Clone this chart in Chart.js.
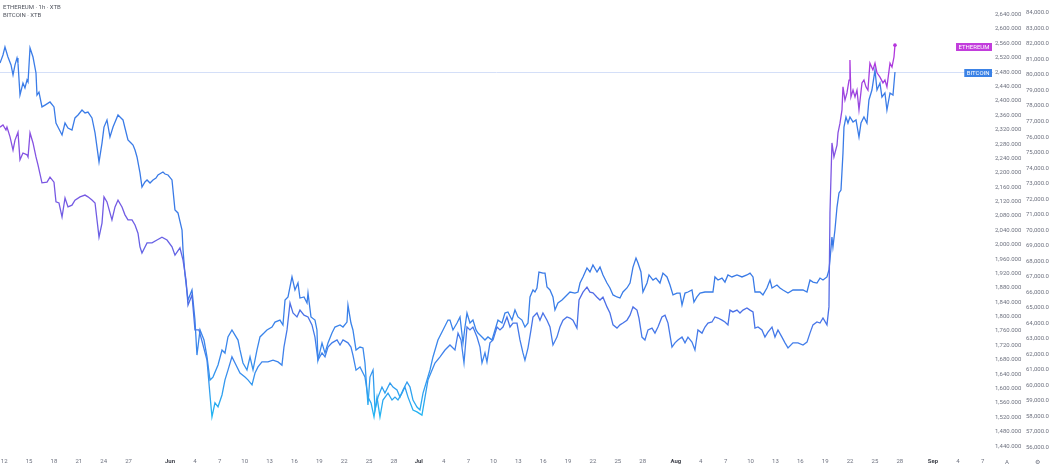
<!DOCTYPE html>
<html lang="en">
<head>
    <meta charset="UTF-8">
    <title>ETHEREUM / BITCOIN - 1h - XTB</title>
    <script src="https://cdn.jsdelivr.net/npm/chart.js"></script>
    <style>
        html, body { margin: 0; padding: 0; background: #fff; }
        .chart-box { position: relative; width: 1052px; height: 471px; }
    </style>
</head>
<body>
    <div class="chart-box">
        <canvas id="pairChart" width="1052" height="471"></canvas>
    </div>
    <script>
    // time axis = days since May 1 (May 12 = 11, Jun 1 = 31 ...)
    const xTickDays = [11, 14, 17, 20, 23, 26, 31, 34, 37, 40, 43, 46, 49, 52, 55, 58, 61, 64, 67, 70, 73, 76, 79, 82, 85, 88, 92, 95, 98, 101, 104, 107, 110, 113, 116, 119, 123, 126, 129];
    const xTickLabels = ['12', '15', '18', '21', '24', '27', 'Jun', '4', '7', '10', '13', '16', '19', '22', '25', '28', 'Jul', '4', '7', '10', '13', '16', '19', '22', '25', '28', 'Aug', '4', '7', '10', '13', '16', '19', '22', '25', '28', 'Sep', '4', '7'];
    const monthLabels = ['Jun', 'Jul', 'Aug', 'Sep'];

    const ethTicks = [1440, 1480, 1520, 1560, 1600, 1640, 1680, 1720, 1760, 1800, 1840, 1880, 1920, 1960, 2000, 2040, 2080, 2120, 2160, 2200, 2240, 2280, 2320, 2360, 2400, 2440, 2480, 2520, 2560, 2600, 2640];
    const btcTicks = [56000, 57000, 58000, 59000, 60000, 61000, 62000, 63000, 64000, 65000, 66000, 67000, 68000, 69000, 70000, 71000, 72000, 73000, 74000, 75000, 76000, 77000, 78000, 79000, 80000, 81000, 82000, 83000, 84000];

    const ethDays = [
        10.50,10.86,11.22,11.34,11.71,12.07,12.31,12.67,12.91,13.27,
        13.76,13.88,14.12,14.48,14.84,15.08,15.56,16.17,16.53,17.01,
        17.25,17.61,17.98,18.34,18.70,19.18,19.54,20.15,20.75,21.11,
        21.59,21.96,22.44,22.80,23.04,23.40,24.00,24.37,24.73,25.21,
        25.57,25.93,26.42,26.78,27.14,27.38,27.62,28.23,28.83,29.43,
        30.03,30.64,31.24,31.60,32.20,32.57,32.93,33.17,33.65,34.01,
        34.49,34.98,35.46,35.82,36.06,36.42,36.79,37.27,37.63,37.99,
        38.47,38.84,39.44,40.04,40.40,40.89,41.25,41.61,42.09,42.81,
        43.42,44.02,44.50,44.74,45.11,45.47,45.83,46.31,46.67,47.16,
        47.64,48.12,48.48,48.84,49.33,49.69,50.05,50.53,51.14,51.50,
        51.86,52.46,52.82,53.06,53.43,53.91,54.51,54.87,55.24,55.60,
        55.96,56.32,56.68,57.29,57.77,58.13,58.49,58.97,59.33,59.70,
        60.30,60.78,61.38,61.75,62.11,62.59,62.95,63.56,64.16,64.76,
        65.36,65.73,66.09,66.45,66.81,67.17,67.53,68.02,68.38,68.62,
        68.98,69.22,69.58,69.95,70.43,70.79,71.15,71.63,72.00,72.36,
        72.84,73.20,73.56,73.80,74.17,74.53,74.77,75.25,75.61,75.97,
        76.46,76.82,77.18,77.66,78.02,78.39,78.87,79.23,79.59,80.07,
        80.32,80.80,81.28,81.64,82.00,82.49,82.85,83.21,83.69,84.05,
        84.42,84.90,85.26,85.62,86.10,86.47,86.83,87.31,87.55,87.91,
        88.27,88.64,89.12,89.48,89.84,90.32,90.69,91.05,91.53,91.89,
        92.25,92.74,93.10,93.46,93.94,94.30,94.66,95.15,95.51,95.87,
        96.35,96.71,97.08,97.56,97.92,98.28,98.52,98.88,99.37,99.73,
        100.09,100.57,100.94,101.30,101.54,101.90,102.38,102.74,103.10,103.59,
        103.95,104.31,104.79,105.16,105.52,106.12,106.72,107.33,107.81,108.17,
        108.53,109.01,109.38,109.74,110.22,110.46,110.58,110.82,111.06,111.43,
        111.55,111.79,112.03,112.15,112.39,112.63,112.88,112.99,113.11,113.36,
        113.60,113.84,114.08,114.44,114.68,114.92,115.16,115.40,115.76,116.01,
        116.25,116.61,116.97,117.21,117.45,117.82,118.06,118.30,118.42
    ];
    const ethPrices = [
        2327,2333,2319,2327,2300,2263,2291,2313,2236,2255,
        2250,2244,2311,2283,2244,2222,2172,2174,2188,2174,
        2119,2116,2077,2130,2105,2110,2124,2133,2138,2133,
        2124,2116,2021,2060,2133,2119,2069,2105,2124,2105,
        2083,2069,2069,2055,2032,1994,1977,2005,2005,2013,
        2021,2013,1994,1971,1991,1957,1902,1832,1860,1763,
        1763,1721,1679,1582,1521,1560,1549,1582,1624,1651,
        1688,1671,1643,1632,1624,1610,1643,1660,1674,1674,
        1679,1674,1665,1715,1763,1838,1810,1799,1818,1804,
        1799,1777,1743,1679,1699,1688,1715,1727,1735,1721,
        1735,1727,1715,1693,1651,1660,1632,1576,1560,1521,
        1576,1521,1568,1587,1568,1576,1568,1587,1604,1576,
        1540,1535,1526,1576,1624,1651,1671,1688,1707,1721,
        1707,1754,1735,1671,1771,1763,1771,1743,1715,1671,
        1699,1674,1727,1735,1771,1763,1771,1799,1771,1782,
        1782,1735,1699,1679,1713,1763,1799,1810,1790,1810,
        1790,1771,1721,1743,1771,1790,1799,1796,1790,1768,
        1846,1868,1882,1868,1866,1854,1846,1854,1827,1810,
        1777,1768,1777,1782,1790,1804,1827,1818,1796,1743,
        1735,1763,1768,1754,1771,1799,1804,1782,1715,1727,
        1735,1743,1727,1743,1729,1707,1763,1754,1771,1782,
        1785,1799,1796,1790,1785,1777,1818,1813,1818,1810,
        1818,1824,1818,1813,1768,1771,1763,1743,1757,1771,
        1743,1763,1743,1727,1713,1727,1727,1721,1729,1754,
        1777,1785,1782,1796,1777,1827,2088,2283,2244,2277,
        2311,2338,2375,2439,2402,2422,2458,2514,2411,2430,
        2411,2430,2375,2450,2458,2439,2430,2505,2486,2505,
        2478,2466,2450,2458,2439,2505,2494,2522,2555
    ];

    const btcDays = [
        10.50,10.86,11.10,11.46,11.83,12.07,12.31,12.55,12.67,12.91,
        13.27,13.51,13.76,13.88,14.12,14.48,14.84,14.96,15.20,15.56,
        15.93,16.53,17.01,17.25,17.49,17.98,18.34,18.70,19.18,19.54,
        19.91,20.39,20.75,21.11,21.59,21.96,22.44,22.80,23.04,23.40,
        23.76,24.13,24.73,25.09,25.33,25.57,25.93,26.30,26.54,26.78,
        27.02,27.38,27.62,27.98,28.23,28.59,28.95,29.31,29.55,30.15,
        30.40,30.76,31.24,31.60,31.96,32.45,32.57,32.81,33.17,33.65,
        34.01,34.25,34.62,35.10,35.46,35.82,36.18,36.79,37.27,37.63,
        37.99,38.47,38.84,39.20,39.44,39.80,40.28,40.65,41.01,41.49,
        41.85,42.33,42.69,43.30,43.66,44.26,44.62,44.87,45.23,45.71,
        46.07,46.43,46.67,47.16,47.52,47.64,48.00,48.48,48.72,48.84,
        49.33,49.69,50.05,50.53,50.89,51.50,51.86,52.34,52.46,52.82,
        53.06,53.43,53.91,54.27,54.51,54.87,55.11,55.48,55.72,56.08,
        56.56,56.92,57.53,57.89,58.37,58.73,59.09,59.58,59.94,60.30,
        60.78,61.14,61.51,61.99,62.35,62.71,63.31,63.92,64.52,64.76,
        65.12,65.61,65.97,66.33,66.57,66.81,67.17,67.53,67.90,68.14,
        68.62,68.98,69.34,69.83,70.19,70.55,71.03,71.39,71.75,72.24,
        72.60,72.96,73.44,73.80,74.17,74.41,74.77,75.01,75.25,75.49,
        75.97,76.22,76.46,76.82,77.18,77.42,77.78,78.27,78.87,79.23,
        79.83,80.20,80.44,80.80,81.28,81.64,82.00,82.49,82.85,83.21,
        83.69,84.05,84.42,84.90,85.26,85.62,86.10,86.47,86.83,87.19,
        87.43,87.79,88.03,88.52,88.76,89.24,89.60,90.08,90.44,90.93,
        91.29,91.65,92.13,92.50,92.74,93.10,93.46,93.94,94.18,94.54,
        94.91,95.51,96.11,96.47,96.71,97.08,97.56,97.92,98.28,98.76,
        99.37,99.97,100.57,100.94,101.30,101.54,102.14,102.50,102.98,103.35,
        103.59,104.19,104.55,104.91,105.52,106.12,106.72,107.33,107.81,108.17,
        108.53,109.01,109.38,109.74,110.22,110.46,110.58,110.82,110.94,111.18,
        111.43,111.67,111.91,112.15,112.27,112.51,112.75,112.99,113.36,113.72,
        114.08,114.32,114.68,115.04,115.28,115.64,116.01,116.25,116.61,116.85,
        117.21,117.45,117.82,118.18,118.42
    ];
    const btcPrices = [
        80770,81290,81810,81160,80650,80000,80650,81100,80770,78710,
        79480,79160,79680,79550,81740,81160,80130,78710,78900,77940,
        78060,78260,77940,76900,76640,76130,76900,76580,76450,77230,
        77420,77740,77550,77610,77230,76260,74390,75610,76640,77100,
        76000,76640,77420,77230,77100,76580,75810,75610,75480,75160,
        74710,73680,72770,73100,73230,73030,73230,73350,73550,73740,
        73610,73550,73230,71290,71100,70000,68710,67100,65480,66130,
        64190,61930,63550,62900,61810,60320,60510,61290,62260,62060,
        63100,63550,63220,62900,62260,61420,60970,61810,60970,62260,
        63100,63350,63550,63740,64060,64190,63870,65480,65680,66970,
        66130,66580,65610,65680,65290,65930,64390,64190,63550,61610,
        62710,62060,62710,63350,63740,63870,63740,64060,65160,64000,
        63550,62260,62450,62390,61420,58710,60510,60970,58390,59220,
        59870,59480,60130,59870,59680,59220,59680,60190,59870,59030,
        58580,58390,59480,60320,60970,61810,62900,63550,64190,64190,
        63550,64000,64390,62710,63740,64640,64000,64190,63550,63350,
        63100,62900,63100,62900,63550,64190,64000,64640,64710,64190,
        64840,64390,64190,63740,64000,65680,66130,66000,66260,67290,
        67220,67220,66320,66130,65680,64840,65290,65480,65810,66000,
        65930,66000,66580,66970,67550,67290,67740,67290,67610,67100,
        66580,66260,65810,65680,65610,66000,66260,66580,67610,68190,
        67870,67290,66000,66580,67100,66770,66900,66580,67220,66970,
        66450,65810,65930,65930,65160,65930,66000,66130,65350,65680,
        65930,66000,66000,66000,66970,66770,66900,66640,67100,66970,
        67100,66970,67100,67220,66970,66000,66000,65810,66260,66770,
        66260,66450,66260,66130,65930,66130,66130,66130,66000,66770,
        66640,66580,66900,66770,66970,67420,68060,69550,68900,70000,
        71480,72390,72580,74970,76640,77290,76900,77290,76970,77100,
        76000,76900,77290,76900,78390,79030,80320,79030,79480,78580,
        78840,77740,78840,78710,80190
    ];

    const FONT = 'Roboto, "Liberation Sans", sans-serif';
    const AXIS_GREY = '#6f7380';

    // vertical gradients (fraction of plot height -> colour)
    const ethStops = [[0, '#c61fd7'], [0.1, '#b634dc'], [0.28, '#8b4fe1'], [0.5, '#6d5ee4'], [0.68, '#4b6fe6'], [0.8, '#3d86ec'], [0.92, '#22b8f2'], [1, '#1fc2f4']];
    const btcStops = [[0, '#3c7ee8'], [0.6, '#3979e6'], [0.78, '#3a88ec'], [0.92, '#25b4f2'], [1, '#20bff4']];

    function gradientFor(stops, fallback) {
        return function(context) {
            const chart = context.chart;
            const area = chart.chartArea;
            if (!area) return fallback;
            const g = chart.ctx.createLinearGradient(0, area.top, 0, area.bottom);
            stops.forEach(s => g.addColorStop(s[0], s[1]));
            return g;
        };
    }

    function toPoints(days, prices) {
        return days.map((d, i) => ({ x: d, y: prices[i] }));
    }

    function noPadding(s) {
        s.paddingLeft = 0; s.paddingRight = 0; s.paddingTop = 0; s.paddingBottom = 0;
    }

    function drawTag(ctx, text, bg, right, yMid) {
        ctx.font = '6px ' + FONT;
        const w = ctx.measureText(text).width + 5;
        const h = 8;
        ctx.fillStyle = bg;
        ctx.fillRect(right - w, Math.round(yMid - h / 2), w, h);
        ctx.fillStyle = '#fff';
        ctx.textAlign = 'left';
        ctx.textBaseline = 'middle';
        ctx.fillText(text, right - w + 2.5, Math.round(yMid - h / 2) + h / 2 + 0.5);
    }

    // price line, tags, legend text
    const overlay = {
        id: 'overlay',
        beforeDatasetsDraw(chart) {
            const { ctx, chartArea } = chart;
            const yb = Math.round(chart.scales.yBtc.getPixelForValue(btcPrices[btcPrices.length - 1])) + 0.5;
            ctx.save();
            ctx.strokeStyle = '#d4dff8';
            ctx.lineWidth = 1;
            ctx.beginPath();
            ctx.moveTo(chartArea.left, yb);
            ctx.lineTo(chartArea.right, yb);
            ctx.stroke();
            ctx.restore();
        },
        afterDraw(chart) {
            const { ctx, chartArea } = chart;
            ctx.save();
            const ye = chart.scales.yEth.getPixelForValue(ethPrices[ethPrices.length - 1]);
            const yb = chart.scales.yBtc.getPixelForValue(btcPrices[btcPrices.length - 1]);
            drawTag(ctx, 'ETHEREUM', '#c23ddc', chartArea.right - 1, ye + 1.5);
            drawTag(ctx, 'BITCOIN', '#3b82e6', chartArea.right - 1, yb + 0.5);

            ctx.fillStyle = '#50545e';
            ctx.font = '6px ' + FONT;
            ctx.textAlign = 'left';
            ctx.textBaseline = 'middle';
            ctx.fillText('ETHEREUM · 1h · XTB', 3, 7);
            ctx.fillText('BITCOIN · XTB', 3, 15);

            ctx.fillStyle = AXIS_GREY;
            ctx.textAlign = 'center';
            ctx.fillText('A', 1007, 462);
            ctx.fillText('⚙', 1037, 462);
            ctx.restore();
        }
    };

    new Chart(document.getElementById('pairChart').getContext('2d'), {
        type: 'line',
        data: {
            datasets: [
                {
                    label: 'ETHEREUM',
                    data: toPoints(ethDays, ethPrices),
                    yAxisID: 'yEth',
                    borderColor: gradientFor(ethStops, '#8b4fe1'),
                    borderWidth: 1.3,
                    pointRadius: c => c.dataIndex === ethPrices.length - 1 ? 1.8 : 0,
                    pointHoverRadius: 0,
                    pointBackgroundColor: '#b535dd',
                    pointBorderWidth: 0,
                    tension: 0
                },
                {
                    label: 'BITCOIN',
                    data: toPoints(btcDays, btcPrices),
                    yAxisID: 'yBtc',
                    borderColor: gradientFor(btcStops, '#3c7ee8'),
                    borderWidth: 1.3,
                    pointRadius: 0,
                    pointHoverRadius: 0,
                    tension: 0
                }
            ]
        },
        options: {
            responsive: false,
            animation: false,
            layout: { padding: 0, autoPadding: false },
            plugins: { legend: { display: false }, tooltip: { enabled: false } },
            scales: {
                x: {
                    type: 'linear',
                    min: 10.5,
                    max: 130.24,
                    grid: { display: false, drawTicks: false },
                    border: { display: false },
                    afterBuildTicks: s => { s.ticks = xTickDays.map(v => ({ value: v })); },
                    afterFit: s => { s.height = 16; noPadding(s); },
                    ticks: {
                        autoSkip: false,
                        maxRotation: 0,
                        padding: 3,
                        color: c => monthLabels.includes(xTickLabels[c.index]) ? '#40434c' : AXIS_GREY,
                        font: c => ({ family: FONT, size: 6, weight: monthLabels.includes(xTickLabels[c.index]) ? 'bold' : 'normal' }),
                        callback: (v, i) => xTickLabels[i]
                    }
                },
                yEth: {
                    position: 'right',
                    min: 1415.0,
                    max: 2680.6,
                    grid: { display: false, drawTicks: false },
                    border: { display: false },
                    afterBuildTicks: s => { s.ticks = ethTicks.map(v => ({ value: v })); },
                    afterFit: s => { s.width = 29; noPadding(s); },
                    ticks: {
                        autoSkip: false,
                        padding: 2,
                        color: AXIS_GREY,
                        font: { family: FONT, size: 6 },
                        callback: v => v.toLocaleString('en-US', { minimumFractionDigits: 3, maximumFractionDigits: 3 })
                    }
                },
                yBtc: {
                    position: 'right',
                    min: 55483.9,
                    max: 84838.7,
                    grid: { display: false, drawTicks: false },
                    border: { display: false },
                    afterBuildTicks: s => { s.ticks = btcTicks.map(v => ({ value: v })); },
                    afterFit: s => { s.width = 30; noPadding(s); },
                    ticks: {
                        autoSkip: false,
                        padding: 4,
                        color: AXIS_GREY,
                        font: { family: FONT, size: 6 },
                        callback: v => v.toLocaleString('en-US', { minimumFractionDigits: 1, maximumFractionDigits: 1 })
                    }
                }
            }
        },
        plugins: [overlay]
    });
    </script>
</body>
</html>
